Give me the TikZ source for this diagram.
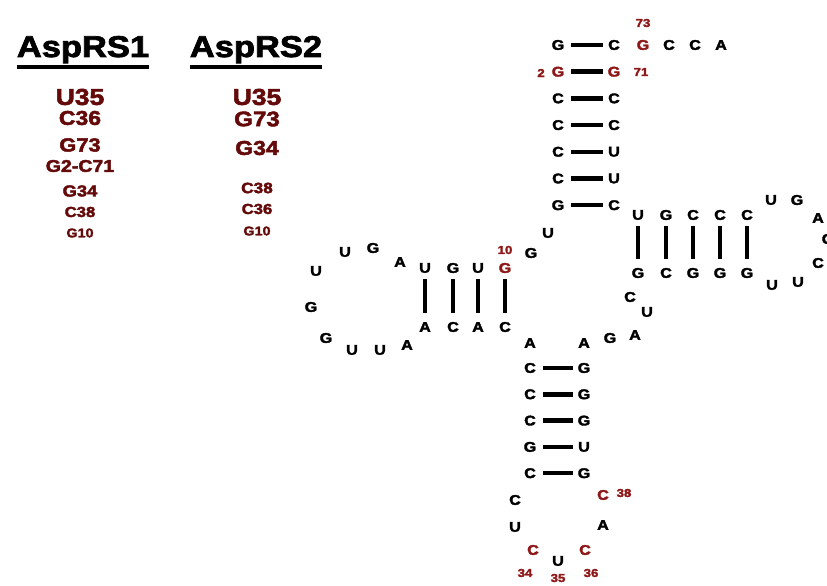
\documentclass[tikz,border=0pt]{standalone}
\usepackage{fontspec}
\setmainfont{Liberation Sans}[FakeStretch=1.15,BoldFeatures={FakeBold=2.5}]
\definecolor{nred}{HTML}{8E1818}
\definecolor{lred}{HTML}{640A0A}
\tikzset{
  nt/.style={font=\fontsize{14}{14}\selectfont\bfseries,inner sep=0pt},
  num/.style={font=\fontsize{11.5}{11.5}\selectfont\bfseries,inner sep=0pt,text=nred},
  hbond/.style={line width=4.5pt,shorten <=7pt,shorten >=5pt},
  vbond/.style={line width=4.5pt,shorten <=6pt,shorten >=9pt},
  head/.style={font=\fontsize{30}{30}\selectfont\bfseries,inner sep=0pt},
  uline/.style={line width=3.5pt},
  det/.style={font=\fontsize{#1}{#1}\selectfont\bfseries,inner sep=0pt,text=lred},
}
\begin{document}
\begin{tikzpicture}[x=1pt,y=-1pt]
  \path[fill=white,use as bounding box] (0,0) rectangle (827,586);
  % headings and determinant lists
  \node[head,anchor=base] (h1) at (83,57) {AspRS1};
  \node[head,anchor=base] (h2) at (256,57) {AspRS2};
  \foreach \h in {h1,h2} \draw[uline] ([yshift=-3.5pt]\h.south west) -- ([yshift=-3.5pt]\h.south east);
  \foreach \t/\s/\y [count=\i] in {U35/23/97,C36/20/118,G73/19/145,G2-C71/17/166,G34/16/191,C38/14.5/212,G10/12.5/233}
    \node[det=\s] (la\i) at (80,\y) {\t};
  \foreach \t/\s/\y [count=\i] in {U35/23/97,G73/21/119,G34/20/148,C38/15/188,C36/14.5/209,G10/12.5/231}
    \node[det=\s] (lb\i) at (257,\y) {\t};
  % acceptor stem
  \foreach \l/\r/\c [count=\i] in {G/C/black,G/G/nred,C/C/black,C/C/black,C/U/black,C/U/black,G/C/black} {
    \node[nt,text=\c] (aL\i) at (558,{45+26.7*(\i-1)}) {\l};
    \node[nt,text=\c] (aR\i) at (614,{45+26.7*(\i-1)}) {\r};
    \draw[hbond] (aL\i) -- (aR\i);
  }
  \foreach \l/\x/\c [count=\i] in {G/643/nred,C/669/black,C/695/black,A/721/black}
    \node[nt,text=\c] (tl\i) at (\x,45) {\l};
  \node[num] (n73) at (643,23) {73};
  \node[num] (n2) at (541,73) {2};
  \node[num] (n71) at (641,72) {71};
  \node[nt] (j1) at (548,233) {U};
  \node[nt] (j2) at (531,253) {G};
  % D arm
  \foreach \t/\b/\x/\c [count=\i] in {U/A/425/black,G/C/453/black,U/A/478/black,G/C/505/nred} {
    \node[nt,text=\c] (dT\i) at (\x,268) {\t};
    \node[nt] (dB\i) at (\x,327) {\b};
    \draw[vbond] (dT\i) -- (dB\i);
  }
  \node[num] (n10) at (505,250) {10};
  \foreach \l/\x/\y [count=\i] in {A/400/262,G/373/248,U/345/252,U/316/271,G/311/307,G/326/338,U/352/350,U/380/350,A/407/345}
    \node[nt] (dl\i) at (\x,\y) {\l};
  % anticodon arm
  \node[nt] (cL0) at (530,343) {A};
  \node[nt] (cR0) at (584,343) {A};
  \node[nt] (v1) at (610,338) {G};
  \node[nt] (v2) at (635,335) {A};
  \foreach \l/\r [count=\i] in {C/G,C/G,C/G,G/U,C/G} {
    \node[nt] (cL\i) at (530,{368+26.3*(\i-1)}) {\l};
    \node[nt] (cR\i) at (584,{368+26.3*(\i-1)}) {\r};
    \draw[hbond] (cL\i) -- (cR\i);
  }
  \foreach \l/\x/\y/\c [count=\i] in {C/515/500/black,U/515/527/black,C/533/550/nred,U/558/561/black,C/585/550/nred,A/603/525/black,C/603/495/nred}
    \node[nt,text=\c] (al\i) at (\x,\y) {\l};
  \foreach \t/\x/\y in {34/525/573,35/558/578,36/591/573,38/624/493}
    \node[num] (n\t) at (\x,\y) {\t};
  % T arm
  \foreach \t/\b/\x [count=\i] in {U/G/638,G/C/666,C/G/693,C/G/720,C/G/747} {
    \node[nt] (tT\i) at (\x,215) {\t};
    \node[nt] (tB\i) at (\x,273) {\b};
    \draw[vbond] (tT\i) -- (tB\i);
  }
  \foreach \l/\x/\y [count=\i] in {U/771/200,G/797/200,A/818/218,G/828/239,C/818/263,U/798/282,U/772/285}
    \node[nt] (tp\i) at (\x,\y) {\l};
  \node[nt] (k1) at (630,297) {C};
  \node[nt] (k2) at (647,312) {U};
\end{tikzpicture}
\end{document}
